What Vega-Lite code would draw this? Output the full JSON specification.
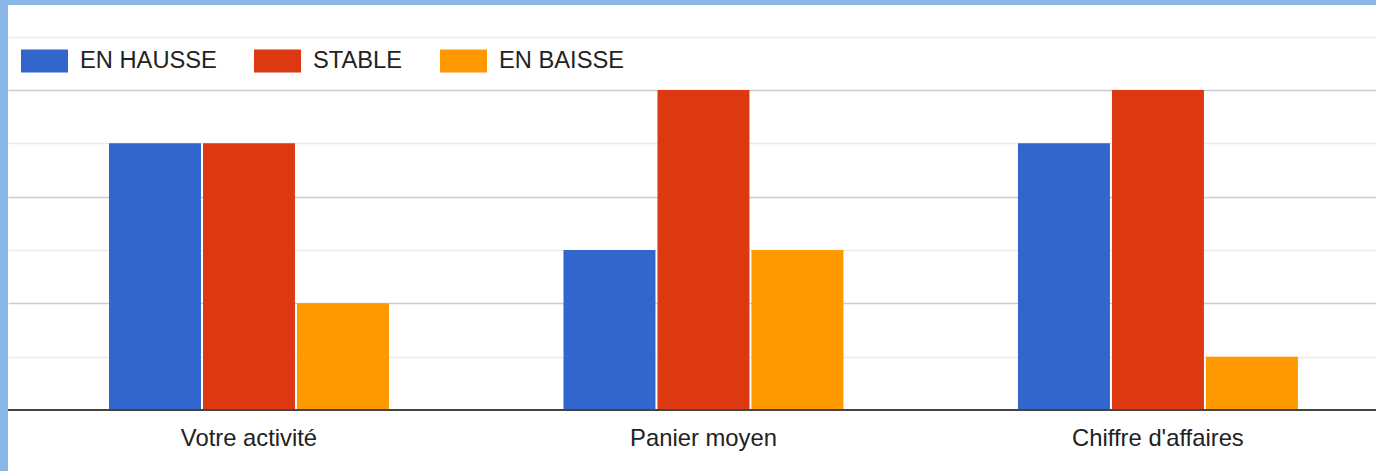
{
  "$schema": "https://vega.github.io/schema/vega-lite/v6.json",
  "width": 1368,
  "height": 466,
  "autosize": {"type": "none"},
  "padding": {"left": 8, "top": 5, "right": 0, "bottom": 0},
  "background": "#8ab7e8",
  "config": {
    "view": {"fill": "#ffffff", "stroke": null},
    "font": "Liberation Sans"
  },
  "data": {
    "values": [
      {"categorie": "Votre activité", "serie": "EN HAUSSE", "valeur": 5},
      {"categorie": "Votre activité", "serie": "STABLE", "valeur": 5},
      {"categorie": "Votre activité", "serie": "EN BAISSE", "valeur": 2},
      {"categorie": "Panier moyen", "serie": "EN HAUSSE", "valeur": 3},
      {"categorie": "Panier moyen", "serie": "STABLE", "valeur": 6},
      {"categorie": "Panier moyen", "serie": "EN BAISSE", "valeur": 3},
      {"categorie": "Chiffre d'affaires", "serie": "EN HAUSSE", "valeur": 5},
      {"categorie": "Chiffre d'affaires", "serie": "STABLE", "valeur": 6},
      {"categorie": "Chiffre d'affaires", "serie": "EN BAISSE", "valeur": 1}
    ]
  },
  "layer": [
    {
      "mark": {"type": "bar"},
      "encoding": {
        "x": {
          "field": "categorie",
          "type": "nominal",
          "sort": ["Votre activité", "Panier moyen", "Chiffre d'affaires"],
          "scale": {"paddingInner": 0.384, "paddingOuter": 0.197, "align": 0.564},
          "axis": {
            "title": null,
            "orient": "bottom",
            "offset": -61,
            "domain": false,
            "ticks": false,
            "labelAngle": 0,
            "labelFont": "Liberation Sans",
            "labelFontSize": 23.8,
            "labelColor": "#222222",
            "labelBaseline": "alphabetic",
            "labelPadding": 35
          }
        },
        "xOffset": {
          "field": "serie",
          "type": "nominal",
          "sort": ["EN HAUSSE", "STABLE", "EN BAISSE"],
          "scale": {"paddingInner": 0.0213, "paddingOuter": 0}
        },
        "y": {
          "field": "valeur",
          "type": "quantitative",
          "scale": {"domain": [-1.144, 7.594], "nice": false, "zero": false},
          "axis": {
            "title": null,
            "labels": false,
            "ticks": false,
            "domain": false,
            "values": [1, 2, 3, 4, 5, 6, 7],
            "gridColor": {"condition": {"test": "datum.value % 2 === 0", "value": "#cccccc"}, "value": "#ebebeb"},
            "gridWidth": 1.5
          }
        },
        "y2": {"datum": 0},
        "color": {
          "field": "serie",
          "type": "nominal",
          "scale": {
            "domain": ["EN HAUSSE", "STABLE", "EN BAISSE"],
            "range": ["#3366cc", "#dc3912", "#ff9900"]
          },
          "legend": {
            "title": null,
            "orient": "none",
            "direction": "horizontal",
            "legendX": 13,
            "legendY": 32,
            "padding": 0,
            "symbolType": "M-1,-0.49H1V0.49H-1Z",
            "symbolSize": 2209,
            "symbolStrokeWidth": 0,
            "symbolOpacity": 1,
            "labelOffset": 12,
            "columnPadding": 37,
            "labelFont": "Liberation Sans",
            "labelFontSize": 23.7,
            "labelColor": "#222222"
          }
        }
      }
    },
    {
      "mark": {"type": "rule", "color": "#444444", "strokeWidth": 2},
      "encoding": {"y": {"datum": 0}}
    }
  ]
}
